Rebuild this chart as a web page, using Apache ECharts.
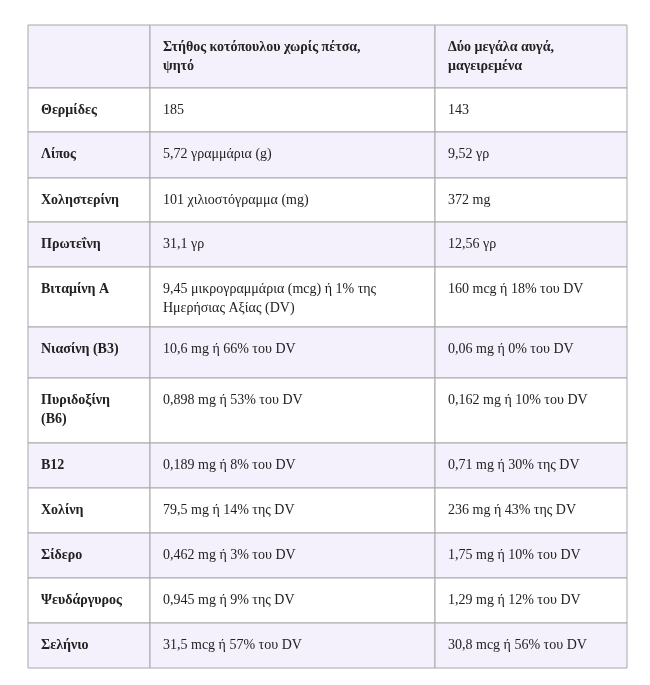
<!DOCTYPE html>
<html>
<head>
<meta charset="utf-8">
<script src="https://cdn.jsdelivr.net/npm/echarts@6/dist/echarts.min.js"></script>
<style>html,body{margin:0;padding:0;background:#fff}#c{width:650px;height:685px}</style>
</head>
<body>
<div id="c"></div>
<script>
var headers = ['', 'Στήθος κοτόπουλου χωρίς πέτσα,\nψητό', 'Δύο μεγάλα αυγά,\nμαγειρεμένα'];
var nutrients = ['Θερμίδες', 'Λίπος', 'Χοληστερίνη', 'Πρωτεΐνη', 'Βιταμίνη Α', 'Νιασίνη (Β3)',
  'Πυριδοξίνη\n(Β6)', 'Β12', 'Χολίνη', 'Σίδερο', 'Ψευδάργυρος', 'Σελήνιο'];
var chicken = ['185', '5,72 γραμμάρια (g)', '101 χιλιοστόγραμμα (mg)', '31,1 γρ',
  '9,45 μικρογραμμάρια (mcg) ή 1% της\nΗμερήσιας Αξίας (DV)', '10,6 mg ή 66% του DV',
  '0,898 mg ή 53% του DV', '0,189 mg ή 8% του DV', '79,5 mg ή 14% της DV',
  '0,462 mg ή 3% του DV', '0,945 mg ή 9% της DV', '31,5 mcg ή 57% του DV'];
var eggs = ['143', '9,52 γρ', '372 mg', '12,56 γρ', '160 mcg ή 18% του DV',
  '0,06 mg ή 0% του DV', '0,162 mg ή 10% του DV', '0,71 mg ή 30% της DV',
  '236 mg ή 43% της DV', '1,75 mg ή 10% του DV', '1,29 mg ή 12% του DV',
  '30,8 mcg ή 56% του DV'];

var rows = [headers].concat(nutrients.map(function (n, i) { return [n, chicken[i], eggs[i]]; }));
// layout in pixels
var colEdges = [0, 122, 407, 599];
var rowH = [63, 44, 46, 44, 45, 60, 51, 65, 45, 45, 45, 45, 45];
var rowTop = [0];
rowH.forEach(function (h, i) { rowTop.push(rowTop[i] + h); });

var chart = echarts.init(document.getElementById('c'));
chart.setOption({
  animation: false,
  grid: { left: 28, right: 23, top: 25, bottom: 685 - 25 - rowTop[rowTop.length - 1] },
  xAxis: { type: 'value', min: 0, max: 599, show: false },
  yAxis: { type: 'value', min: 0, max: rowTop[rowTop.length - 1], inverse: true, show: false },
  series: [{
    type: 'custom',
    data: rows.map(function (r, i) { return [i]; }),
    renderItem: function (params, api) {
      var ri = api.value(0);
      var row = rows[ri];
      var bg = (ri % 2 === 0) ? '#f4f1fc' : '#ffffff';
      var children = [];
      for (var c = 0; c < 3; c++) {
        var p0 = api.coord([colEdges[c], rowTop[ri]]);
        var p1 = api.coord([colEdges[c + 1], rowTop[ri + 1]]);
        children.push({
          type: 'rect',
          shape: { x: p0[0], y: p0[1], width: p1[0] - p0[0], height: p1[1] - p0[1] },
          style: { fill: bg, stroke: '#a8a8a8', lineWidth: 1 }
        });
        children.push({
          type: 'text',
          x: p0[0] + 13, y: p0[1] + 13,
          style: {
            text: row[c], fill: '#222',
            font: ((c === 0 || ri === 0) ? 'bold ' : '') + '14px "Liberation Serif", serif',
            lineHeight: 19, verticalAlign: 'top', align: 'left'
          }
        });
      }
      return { type: 'group', children: children };
    }
  }]
});
</script>
</body>
</html>
